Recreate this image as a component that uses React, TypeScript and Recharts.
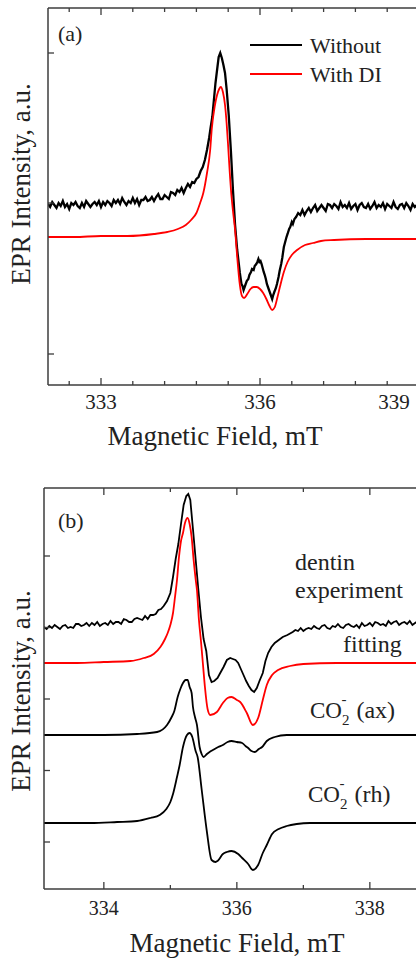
import React from 'react';
import { LineChart, Line, XAxis, YAxis, ReferenceLine, Legend } from 'recharts';

// ---------- Panel (a) ----------
const fieldWithout = [
  332.0, 332.04, 332.08, 332.12, 332.16, 332.2, 332.24, 332.28, 332.32, 332.36, 332.4, 332.44, 332.48, 332.52,
  332.56, 332.6, 332.64, 332.68, 332.72, 332.76, 332.8, 332.84, 332.88, 332.92, 332.96, 333.0, 333.04, 333.08,
  333.12, 333.16, 333.2, 333.24, 333.28, 333.32, 333.36, 333.4, 333.44, 333.48, 333.52, 333.56, 333.6, 333.64,
  333.68, 333.72, 333.76, 333.8, 333.84, 333.88, 333.92, 333.96, 334.0, 334.04, 334.08, 334.12, 334.16, 334.2,
  334.24, 334.28, 334.32, 334.36, 334.4, 334.44, 334.48, 334.52, 334.56, 334.6, 334.64, 334.68, 334.72, 334.76,
  334.8, 334.84, 334.88, 334.92, 334.96, 335.0, 335.04, 335.07, 335.1, 335.13, 335.16, 335.19, 335.22, 335.25,
  335.28, 335.31, 335.34, 335.37, 335.41, 335.45, 335.49, 335.53, 335.57, 335.62, 335.65, 335.67, 335.69, 335.71,
  335.73, 335.75, 335.78, 335.8, 335.83, 335.85, 335.88, 335.9, 335.93, 335.95, 335.97, 335.99, 336.01, 336.03,
  336.05, 336.07, 336.09, 336.11, 336.13, 336.15, 336.17, 336.19, 336.21, 336.23, 336.25, 336.27, 336.3, 336.32,
  336.35, 336.37, 336.4, 336.42, 336.45, 336.47, 336.5, 336.52, 336.55, 336.57, 336.6, 336.62, 336.65, 336.68,
  336.72, 336.76, 336.8, 336.84, 336.88, 336.92, 336.96, 337.0, 337.04, 337.08, 337.12, 337.16, 337.2, 337.24,
  337.28, 337.32, 337.36, 337.4, 337.44, 337.48, 337.52, 337.56, 337.6, 337.64, 337.68, 337.72, 337.76, 337.8,
  337.84, 337.88, 337.92, 337.96, 338.0, 338.04, 338.08, 338.12, 338.16, 338.2, 338.24, 338.28, 338.32, 338.36,
  338.4, 338.44, 338.48, 338.52, 338.56, 338.6, 338.64, 338.68, 338.72, 338.76, 338.8, 338.84, 338.88, 338.92,
  338.96, 339.0, 339.04, 339.08, 339.12, 339.16, 339.2, 339.24, 339.28, 339.32, 339.36, 339.4, 339.44, 339.48,
  339.52, 339.56, 339.6,
];
const withoutDI = [
  181, 178, 183, 180, 177, 182, 179, 184, 178, 181, 176, 182, 180, 183,
  179, 177, 182, 178, 184, 181, 178, 181, 183, 180, 184, 178, 183, 180,
  184, 182, 179, 185, 182, 185, 181, 187, 183, 180, 184, 182, 187, 182,
  186, 180, 185, 185, 188, 184, 185, 188, 184, 188, 191, 186, 186, 190,
  188, 186, 193, 192, 190, 195, 193, 197, 192, 197, 201, 198, 203, 202,
  206, 208, 214, 218, 225, 235, 247, 258, 268, 285, 302, 315, 328, 332,
  327, 320, 312, 296, 270, 235, 195, 160, 135, 112, 101, 99, 95, 98,
  101, 104, 106, 110, 113, 116, 115, 119, 121, 123, 126, 123, 124, 121,
  117, 113, 110, 106, 101, 98, 95, 92, 89, 86, 90, 93, 97, 101,
  108, 114, 121, 127, 138, 142, 148, 151, 156, 158, 163, 161, 166, 168,
  172, 170, 175, 170, 174, 177, 173, 177, 180, 174, 177, 180, 177, 174,
  181, 180, 177, 181, 179, 176, 183, 178, 180, 177, 182, 176, 179, 181,
  175, 180, 182, 178, 177, 181, 176, 179, 183, 177, 180, 178, 182, 176,
  181, 179, 177, 183, 178, 176, 180, 181, 177, 182, 179, 175, 181, 178,
  180, 182, 176, 179, 181, 177, 183, 178, 176, 180, 179, 181, 177, 182,
  178, 176, 180,
];

const fieldWithDI = [
  332.0, 332.5, 333.0, 333.5, 334.0, 334.25, 334.45, 334.6, 334.7, 334.8, 334.87, 334.93, 335.0,
  335.06, 335.09, 335.15, 335.19, 335.23, 335.26, 335.3, 335.34, 335.37, 335.4, 335.43, 335.46, 335.49,
  335.53, 335.57, 335.62, 335.66, 335.7, 335.76, 335.82, 335.88, 335.94, 336.0, 336.06, 336.12, 336.18,
  336.23, 336.28, 336.33, 336.38, 336.45, 336.52, 336.6, 336.7, 336.85, 337.0, 337.15, 337.4, 338.0,
  339.0, 339.6,
];
const withDI = [
  148, 148, 149, 149, 151, 153, 156, 160, 165, 172, 182, 192, 212,
  235, 256, 280, 290, 296, 298, 293, 280, 262, 238, 212, 190, 174,
  155, 128, 100, 89, 87, 91, 96, 98, 98, 96, 92, 86, 79,
  75, 78, 88, 99, 113, 123, 130, 135, 140, 142, 144, 145, 146,
  146, 146,
];

const legendOrderA = ['Without', 'With DI'];
const ticksA = [332.4, 333, 333.6, 334.2, 334.8, 335.4, 336, 336.6, 337.2, 337.8, 338.4, 339];
const majorA = [333, 336, 339];
const yTicksA = [31, 182, 332];

// ---------- Panel (b) ----------
const fieldExp = [
  333.1, 333.14, 333.18, 333.22, 333.26, 333.3, 333.34, 333.38, 333.42, 333.46, 333.5, 333.54, 333.58, 333.62,
  333.66, 333.7, 333.74, 333.78, 333.82, 333.86, 333.9, 333.94, 333.98, 334.02, 334.06, 334.1, 334.14, 334.18,
  334.22, 334.26, 334.3, 334.34, 334.38, 334.42, 334.46, 334.5, 334.54, 334.58, 334.62, 334.66, 334.7, 334.74,
  334.78, 334.82, 334.86, 334.9, 334.95, 335.0, 335.04, 335.08, 335.12, 335.16, 335.2, 335.24, 335.27, 335.3,
  335.34, 335.38, 335.42, 335.46, 335.5, 335.54, 335.58, 335.62, 335.66, 335.71, 335.75, 335.8, 335.85, 335.9,
  335.94, 335.98, 336.02, 336.06, 336.1, 336.14, 336.18, 336.22, 336.26, 336.3, 336.34, 336.39, 336.43, 336.47,
  336.52, 336.57, 336.63, 336.69, 336.76, 336.84, 336.88, 336.92, 336.96, 337.0, 337.04, 337.08, 337.12, 337.16,
  337.2, 337.24, 337.28, 337.32, 337.36, 337.4, 337.44, 337.48, 337.52, 337.56, 337.6, 337.64, 337.68, 337.72,
  337.76, 337.8, 337.84, 337.88, 337.92, 337.96, 338.0, 338.04, 338.08, 338.12, 338.16, 338.2, 338.24, 338.28,
  338.32, 338.36, 338.4, 338.44, 338.48, 338.52, 338.56, 338.6, 338.64, 338.68, 338.72, 338.76, 338.8, 338.84,
  338.88, 338.92, 338.96, 339.0,
];
const dentinExp = [
  262, 260, 263, 261, 264, 262, 260, 263, 264, 261, 262, 261, 265, 265,
  263, 264, 266, 263, 266, 264, 267, 263, 265, 266, 264, 268, 265, 267,
  267, 265, 270, 269, 267, 267, 270, 271, 270, 269, 273, 270, 274, 274,
  275, 279, 280, 283, 288, 296, 312, 330, 345, 365, 384, 393, 395, 389,
  360, 330, 300, 272, 250, 238, 214, 207, 208, 211, 216, 222, 229, 231,
  230, 229, 226, 220, 214, 208, 203, 199, 197, 201, 208, 216, 228, 236,
  242, 246, 249, 252, 254, 257, 259, 258, 261, 258, 260, 261, 260, 263,
  261, 260, 263, 264, 261, 260, 263, 262, 265, 262, 261, 264, 265, 263,
  262, 264, 261, 266, 263, 264, 266, 263, 267, 266, 264, 265, 263, 268,
  265, 267, 268, 264, 266, 267, 265, 268, 264, 266, 268, 266, 269, 266,
  267, 265, 268, 269,
];

const fieldFit = [
  333.1, 333.6, 334.0, 334.4, 334.6, 334.75, 334.85, 334.92, 334.96, 335.0, 335.04, 335.07, 335.1,
  335.13, 335.16, 335.19, 335.22, 335.26, 335.29, 335.32, 335.35, 335.38, 335.4, 335.43, 335.46, 335.49,
  335.52, 335.56, 335.6, 335.7, 335.79, 335.86, 335.92, 336.0, 336.05, 336.15, 336.24, 336.32, 336.39,
  336.45, 336.53, 336.62, 336.8, 337.0, 337.5, 338.0, 339.0,
];
const fitting = [
  226, 226, 227, 228, 231, 235, 242, 250, 256, 264, 276, 292, 309,
  332, 348, 356, 366, 371, 365, 352, 329, 310, 299, 269, 248, 225,
  202, 180, 174, 177, 186, 191, 192, 189, 187, 176, 164, 171, 189,
  204, 214, 219, 223, 225, 226, 226, 226,
];

const fieldAx = [
  333.1, 334.0, 334.5, 334.8, 334.95, 335.02, 335.06, 335.11, 335.15, 335.19, 335.23, 335.26, 335.29,
  335.32, 335.34, 335.37, 335.4, 335.44, 335.47, 335.5, 335.55, 335.59, 335.64, 335.72, 335.79, 335.86,
  335.92, 336.0, 336.08, 336.13, 336.17, 336.22, 336.27, 336.33, 336.38, 336.45, 336.57, 336.75, 337.1,
  339.0,
];
const co2Ax = [
  154, 154, 155, 157, 164, 172, 178, 192, 200, 206, 209, 209, 202,
  196, 182, 172, 164, 142, 135, 132, 135, 137, 139, 142, 144, 147,
  148, 147, 146, 143, 141, 138, 137, 140, 142, 148, 152, 154, 154,
  154,
];

const fieldRh = [
  333.1, 333.8, 334.2, 334.5, 334.7, 334.84, 334.94, 335.0, 335.04, 335.1, 335.14, 335.19, 335.25,
  335.29, 335.33, 335.38, 335.41, 335.47, 335.55, 335.62, 335.68, 335.71, 335.79, 335.85, 335.92, 336.02,
  336.08, 336.17, 336.24, 336.32, 336.39, 336.45, 336.53, 336.63, 336.75, 336.9, 337.1, 339.0,
];
const co2Rh = [
  66, 66, 67, 68, 71, 74, 80, 87, 95, 112, 124, 142, 154,
  156, 152, 138, 132, 100, 57, 29, 27, 28, 35, 37, 38, 35,
  31, 25, 19, 24, 36, 44, 55, 60, 63, 65, 66, 66,
];

const ticksB = [334, 335, 336, 337, 338];
const majorB = [334, 336, 338];
const yTicksB = [47, 118.5, 190, 261.5, 333];

const rows = (xs: number[], ys: number[]) => xs.map((x, i) => ({ field: x, value: ys[i] }));

const FONT = "'Liberation Serif', 'Times New Roman', Times, serif";
const AXIS = '#3c3c3c';
const TEXT = '#222';

const XTick = (props: any) => {
  const { x, y, payload, majors, plotH, fontSize, labelDy, maxLabelX } = props;
  const v = payload.value;
  const major = majors.includes(v);
  const len = major ? 7 : 4;
  const lx = Math.min(x, maxLabelX);
  return (
    <g>
      <line x1={x} y1={y} x2={x} y2={y - len} stroke={AXIS} strokeWidth={1.3} />
      <line x1={x} y1={y - plotH} x2={x} y2={y - plotH + len} stroke={AXIS} strokeWidth={1.3} />
      {major && (
        <text x={lx} y={y + labelDy} textAnchor="middle" fontSize={fontSize} fontFamily={FONT} fill={TEXT}>
          {v}
        </text>
      )}
    </g>
  );
};

const YTick = (props: any) => {
  const { x, y } = props;
  return <line x1={x} y1={y} x2={x + 6} y2={y} stroke={AXIS} strokeWidth={1.3} />;
};

const LegendA = (props: any) => {
  const payload = [...(props.payload || [])].sort(
    (a: any, b: any) => legendOrderA.indexOf(a.value) - legendOrderA.indexOf(b.value)
  );
  return (
    <svg width={150} height={60} style={{ display: 'block' }}>
      {payload.map((p: any, i: number) => (
        <g key={i}>
          <line x1={0} y1={15 + i * 29} x2={52} y2={15 + i * 29} stroke={p.color} strokeWidth={2} />
          <text x={60} y={23 + i * 29} fontSize={22} fontFamily={FONT} fill={TEXT}>
            {p.value}
          </text>
        </g>
      ))}
    </svg>
  );
};

const CO2Label = ({ x, y, tail }: { x: number; y: number; tail: string }) => (
  <text x={x} y={y} fontSize={23}>
    CO<tspan dy={7} fontSize={15}>2</tspan>
    <tspan dx={-8} dy={-21} fontSize={15}>-</tspan>
    <tspan dx={4} dy={14} fontSize={24}> {tail}</tspan>
  </text>
);

export default function App() {
  const plotHA = 377;
  const plotHB = 401;
  return (
    <div style={{ position: 'absolute', left: 0, top: 0, width: 416, height: 958, overflow: 'hidden', background: '#fff' }}>
      {/* Panel (a) */}
      <div style={{ position: 'absolute', left: 0, top: 0 }}>
        <LineChart width={460} height={460} margin={{ top: 8, right: 9.2, left: 0, bottom: 45 }}>
          <XAxis
            dataKey="field"
            type="number"
            domain={[332, 339.6]}
            allowDataOverflow
            ticks={ticksA}
            interval={0}
            height={30}
            tickSize={0}
            tickMargin={0}
            tickLine={false}
            axisLine={{ stroke: AXIS, strokeWidth: 1.5 }}
            tick={<XTick majors={majorA} plotH={plotHA} fontSize={21} labelDy={24} maxLabelX={394} />}
          />
          <YAxis
            type="number"
            domain={[0, 377]}
            allowDataOverflow
            ticks={yTicksA}
            interval={0}
            width={48}
            tickSize={0}
            tickMargin={0}
            tickLine={false}
            axisLine={{ stroke: AXIS, strokeWidth: 1.5 }}
            tick={<YTick />}
          />
          <ReferenceLine y={377} stroke={AXIS} strokeWidth={1.5} />
          <Legend
            layout="vertical"
            align="center"
            verticalAlign="middle"
            content={<LegendA />}
            wrapperStyle={{ position: 'absolute', left: 250, top: 30, width: 150, height: 60 }}
          />
          <Line
            data={rows(fieldWithout, withoutDI)}
            dataKey="value"
            name="Without"
            type="linear"
            stroke="#000000"
            strokeWidth={2.3}
            dot={false}
            activeDot={false}
            isAnimationActive={false}
          />
          <Line
            data={rows(fieldWithDI, withDI)}
            dataKey="value"
            name="With DI"
            type="monotone"
            stroke="#ff0000"
            strokeWidth={1.8}
            dot={false}
            activeDot={false}
            isAnimationActive={false}
          />
        </LineChart>
      </div>

      {/* Panel (b) */}
      <div style={{ position: 'absolute', left: 0, top: 470 }}>
        <LineChart width={460} height={488} margin={{ top: 18, right: 23.65, left: 0, bottom: 39 }}>
          <XAxis
            dataKey="field"
            type="number"
            domain={[333.1, 339.0]}
            allowDataOverflow
            ticks={ticksB}
            interval={0}
            height={30}
            tickSize={0}
            tickMargin={0}
            tickLine={false}
            axisLine={{ stroke: AXIS, strokeWidth: 1.5 }}
            tick={<XTick majors={majorB} plotH={plotHB} fontSize={20} labelDy={26} maxLabelX={1000} />}
          />
          <YAxis
            type="number"
            domain={[0, 401]}
            allowDataOverflow
            ticks={yTicksB}
            interval={0}
            width={44}
            tickSize={0}
            tickMargin={0}
            tickLine={false}
            axisLine={{ stroke: AXIS, strokeWidth: 1.5 }}
            tick={<YTick />}
          />
          <ReferenceLine y={401} stroke={AXIS} strokeWidth={1.5} />
          <Line data={rows(fieldExp, dentinExp)} dataKey="value" name="dentin experiment" type="linear"
            stroke="#000000" strokeWidth={1.8} dot={false} activeDot={false} isAnimationActive={false} />
          <Line data={rows(fieldFit, fitting)} dataKey="value" name="fitting" type="monotone"
            stroke="#ff0000" strokeWidth={1.8} dot={false} activeDot={false} isAnimationActive={false} />
          <Line data={rows(fieldAx, co2Ax)} dataKey="value" name="CO2- (ax)" type="monotone"
            stroke="#000000" strokeWidth={1.8} dot={false} activeDot={false} isAnimationActive={false} />
          <Line data={rows(fieldRh, co2Rh)} dataKey="value" name="CO2- (rh)" type="monotone"
            stroke="#000000" strokeWidth={1.8} dot={false} activeDot={false} isAnimationActive={false} />
        </LineChart>
      </div>

      {/* Text annotations */}
      <svg width={416} height={958} style={{ position: 'absolute', left: 0, top: 0, pointerEvents: 'none' }}>
        <g fontFamily={FONT} fill={TEXT}>
          <text x={58} y={41} fontSize={22}>(a)</text>
          <text x={215} y={445} fontSize={27} textAnchor="middle">Magnetic Field, mT</text>
          <text transform="translate(30,184) rotate(-90)" fontSize={27} textAnchor="middle">EPR Intensity, a.u.</text>

          <text x={58} y={528} fontSize={22}>(b)</text>
          <text x={295} y={570} fontSize={24}>dentin</text>
          <text x={295} y={598} fontSize={24}>experiment</text>
          <text x={343} y={652} fontSize={24}>fitting</text>
          <CO2Label x={310} y={718} tail="(ax)" />
          <CO2Label x={308} y={802} tail="(rh)" />
          <text x={237} y={952} fontSize={27} textAnchor="middle">Magnetic Field, mT</text>
          <text transform="translate(30,691) rotate(-90)" fontSize={27} textAnchor="middle">EPR Intensity, a.u.</text>
        </g>
      </svg>
    </div>
  );
}
